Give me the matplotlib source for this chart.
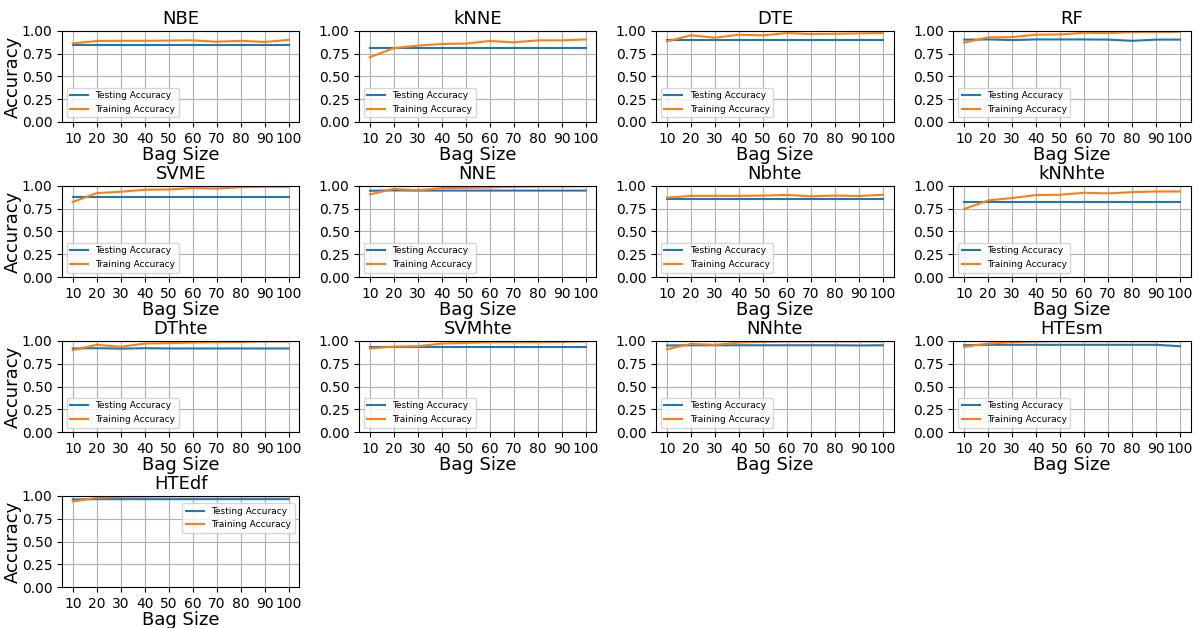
import matplotlib
matplotlib.use("Agg")
import matplotlib.pyplot as plt

bag_sizes = [10, 20, 30, 40, 50, 60, 70, 80, 90, 100]

model_names = ["NBE", "kNNE", "DTE", "RF", "SVME", "NNE", "Nbhte", "kNNhte",
               "DThte", "SVMhte", "NNhte", "HTEsm", "HTEdf"]

test_NBE = [0.844, 0.844, 0.844, 0.844, 0.844, 0.844, 0.844, 0.844, 0.844, 0.844]
train_NBE = [0.862, 0.888, 0.890, 0.890, 0.893, 0.895, 0.880, 0.890, 0.877, 0.900]

test_kNNE = [0.815, 0.815, 0.815, 0.815, 0.815, 0.815, 0.815, 0.815, 0.815, 0.815]
train_kNNE = [0.710, 0.810, 0.837, 0.855, 0.860, 0.888, 0.873, 0.895, 0.895, 0.905]

test_DTE = [0.899, 0.899, 0.899, 0.899, 0.899, 0.899, 0.899, 0.899, 0.899, 0.899]
train_DTE = [0.884, 0.950, 0.924, 0.957, 0.950, 0.975, 0.964, 0.967, 0.971, 0.975]

test_RF = [0.902, 0.905, 0.898, 0.905, 0.905, 0.905, 0.903, 0.890, 0.903, 0.903]
train_RF = [0.870, 0.927, 0.930, 0.957, 0.960, 0.978, 0.975, 0.985, 0.985, 0.989]

test_SVME = [0.873, 0.873, 0.873, 0.873, 0.873, 0.873, 0.873, 0.873, 0.873, 0.873]
train_SVME = [0.823, 0.920, 0.935, 0.957, 0.960, 0.975, 0.970, 0.985, 0.990, 0.990]

test_NNE = [0.946, 0.950, 0.948, 0.948, 0.948, 0.948, 0.948, 0.948, 0.948, 0.948]
train_NNE = [0.906, 0.967, 0.950, 0.975, 0.978, 0.982, 0.990, 0.993, 0.993, 0.996]

test_Nbhte = [0.855, 0.855, 0.855, 0.855, 0.855, 0.855, 0.855, 0.855, 0.855, 0.855]
train_Nbhte = [0.870, 0.890, 0.890, 0.890, 0.893, 0.900, 0.885, 0.893, 0.888, 0.902]

test_kNNhte = [0.826, 0.826, 0.826, 0.826, 0.826, 0.826, 0.826, 0.826, 0.826, 0.826]
train_kNNhte = [0.746, 0.840, 0.866, 0.899, 0.902, 0.924, 0.917, 0.931, 0.938, 0.938]

test_DThte = [0.917, 0.920, 0.915, 0.920, 0.917, 0.917, 0.917, 0.917, 0.917, 0.917]
train_DThte = [0.899, 0.957, 0.935, 0.971, 0.975, 0.982, 0.985, 0.989, 0.993, 0.993]

test_SVMhte = [0.928, 0.928, 0.928, 0.928, 0.928, 0.928, 0.928, 0.928, 0.928, 0.928]
train_SVMhte = [0.917, 0.938, 0.942, 0.971, 0.978, 0.985, 0.985, 0.985, 0.989, 0.993]

test_NNhte = [0.950, 0.952, 0.952, 0.952, 0.952, 0.952, 0.952, 0.952, 0.950, 0.952]
train_NNhte = [0.910, 0.967, 0.957, 0.982, 0.989, 0.993, 0.993, 0.993, 0.993, 0.993]

test_HTEsm = [0.953, 0.957, 0.957, 0.957, 0.957, 0.957, 0.957, 0.957, 0.957, 0.942]
train_HTEsm = [0.935, 0.971, 0.985, 0.993, 0.996, 0.996, 0.996, 0.996, 0.996, 0.996]

test_HTEdf = [0.962, 0.965, 0.965, 0.965, 0.965, 0.965, 0.965, 0.965, 0.965, 0.965]
train_HTEdf = [0.940, 0.980, 0.990, 0.993, 0.996, 0.996, 0.996, 0.996, 0.996, 0.996]

testing = [test_NBE, test_kNNE, test_DTE, test_RF, test_SVME, test_NNE, test_Nbhte,
           test_kNNhte, test_DThte, test_SVMhte, test_NNhte, test_HTEsm, test_HTEdf]
training = [train_NBE, train_kNNE, train_DTE, train_RF, train_SVME, train_NNE, train_Nbhte,
            train_kNNhte, train_DThte, train_SVMhte, train_NNhte, train_HTEsm, train_HTEdf]

fig, axes = plt.subplots(4, 4, figsize=(12.04, 6.28), dpi=100)
fig.subplots_adjust(left=0.0515, right=0.989, top=0.951, bottom=0.065,
                    wspace=0.252, hspace=0.70)

flat = axes.ravel()
for i, name in enumerate(model_names):
    ax = flat[i]
    ax.plot(bag_sizes, testing[i], color="#1f77b4", label="Testing Accuracy")
    ax.plot(bag_sizes, training[i], color="#ff7f0e", label="Training Accuracy")
    ax.set_title(name, fontsize=13, pad=5)
    ax.set_ylim(0, 1.0)
    ax.set_yticks([0.0, 0.25, 0.5, 0.75, 1.0])
    ax.set_xticks(bag_sizes)
    ax.tick_params(labelsize=10)
    ax.grid(True)
    ax.set_xlabel("Bag Size", fontsize=13, labelpad=0)
    if i % 4 == 0:
        ax.set_ylabel("Accuracy", fontsize=13, labelpad=0)
    if name == "HTEdf":
        ax.legend(loc="upper right", bbox_to_anchor=(1.0, 0.97), fontsize=6.5)
    else:
        ax.legend(loc="lower left", fontsize=6.5)

for j in range(len(model_names), 16):
    flat[j].remove()

fig.savefig("out.png", dpi=100)
